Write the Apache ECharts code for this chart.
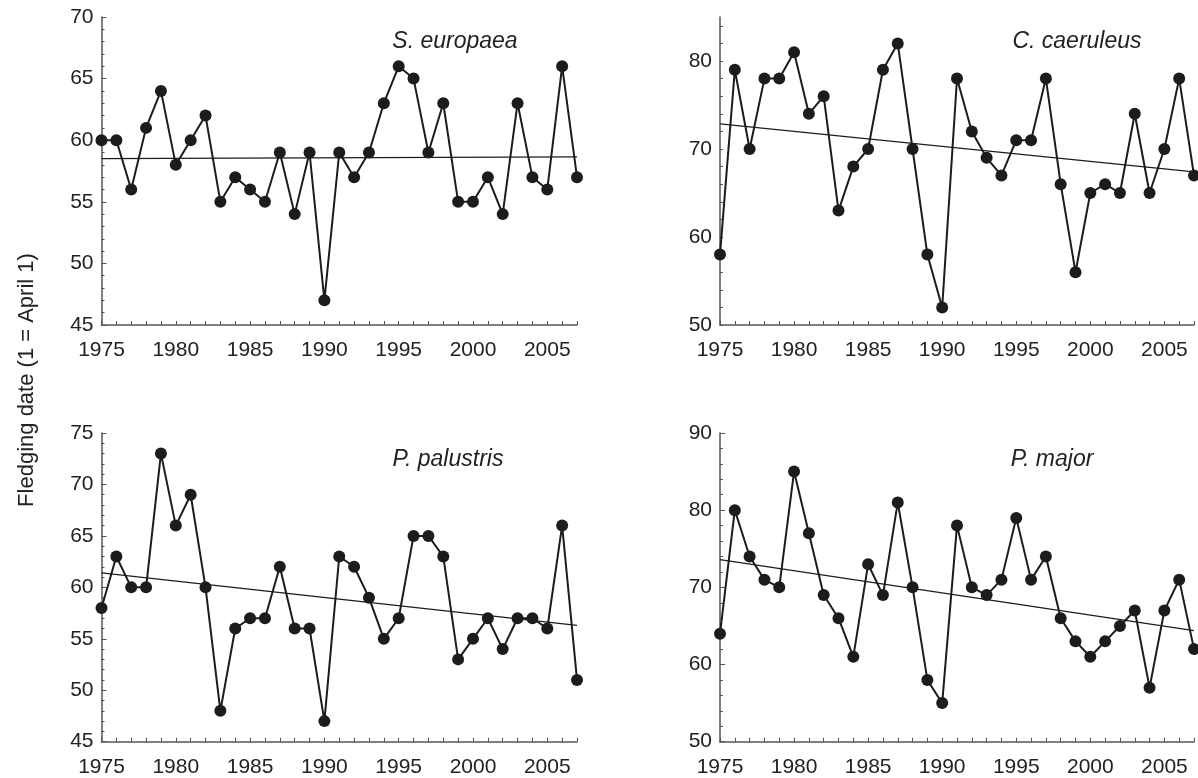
<!DOCTYPE html>
<html>
<head>
<meta charset="utf-8">
<script src="https://cdn.jsdelivr.net/npm/echarts@6/dist/echarts.min.js"></script>
<style>
html,body{margin:0;padding:0;background:#fff;}
#chart{width:1198px;height:778px;}
</style>
</head>
<body>
<div id="chart"></div>
<script>
const years = [1975,1976,1977,1978,1979,1980,1981,1982,1983,1984,1985,1986,1987,1988,1989,1990,1991,1992,1993,1994,1995,1996,1997,1998,1999,2000,2001,2002,2003,2004,2005,2006,2007];
const xTickLabels = [1975,1980,1985,1990,1995,2000,2005];

const sEuropaea   = [60,60,56,61,64,58,60,62,55,57,56,55,59,54,59,47,59,57,59,63,66,65,59,63,55,55,57,54,63,57,56,66,57];
const cCaeruleus  = [58,79,70,78,78,81,74,76,63,68,70,79,82,70,58,52,78,72,69,67,71,71,78,66,56,65,66,65,74,65,70,78,67];
const pPalustris  = [58,63,60,60,73,66,69,60,48,56,57,57,62,56,56,47,63,62,59,55,57,65,65,63,53,55,57,54,57,57,56,66,51];
const pMajor      = [64,80,74,71,70,85,77,69,66,61,73,69,81,70,58,55,78,70,69,71,79,71,74,66,63,61,63,65,67,57,67,71,62];

const trendSEuropaea  = [58.5, 58.65];
const trendCCaeruleus = [72.85, 67.4];
const trendPPalustris = [61.4, 56.3];
const trendPMajor     = [73.6, 64.4];

const titles = ['S. europaea','C. caeruleus','P. palustris','P. major'];
const yLabel = 'Fledging date (1 = April 1)';

const FONT = "'Liberation Sans', Arial, Helvetica, sans-serif";
const AX = '#555';
const INK = '#1c1c1c';

const panels = [
  {data:sEuropaea, trend:trendSEuropaea, grid:{left:101.5, top:17, width:475.5, height:308}, y:{min:45,max:70,interval:5,minor:5}, title:{x:455,y:30}},
  {data:cCaeruleus, trend:trendCCaeruleus, grid:{left:720, top:17, width:474, height:308}, y:{min:50,max:85,interval:2,labelStep:10}, title:{x:1077,y:30}},
  {data:pPalustris, trend:trendPPalustris, grid:{left:101.5, top:433, width:475.5, height:308.7}, y:{min:45,max:75,interval:5,minor:5}, title:{x:448,y:448}},
  {data:pMajor, trend:trendPMajor, grid:{left:720, top:433, width:474, height:308.7}, y:{min:50,max:90,interval:10,minor:5}, title:{x:1052,y:448}}
];

const grid=[], xAxis=[], yAxis=[], series=[], title=[];
panels.forEach((p,i)=>{
  grid.push(Object.assign({containLabel:false}, p.grid));
  xAxis.push({
    type:'value', gridIndex:i, min:years[0], max:years[years.length-1], interval:1,
    axisLine:{show:true, lineStyle:{color:AX, width:1.5}},
    axisTick:{show:true, inside:true, length:4, lineStyle:{color:AX, width:1}},
    splitLine:{show:false},
    axisLabel:{color:'#222', fontSize:21, fontFamily:FONT, margin:15,
      formatter:v=> xTickLabels.indexOf(v)>=0 ? String(v) : ''}
  });
  const ya = {
    type:'value', gridIndex:i, min:p.y.min, max:p.y.max, interval:p.y.interval,
    axisLine:{show:true, lineStyle:{color:AX, width:1.5}},
    axisTick:{show:true, inside:true, length:p.y.labelStep?3:5, lineStyle:{color:AX, width:1}},
    splitLine:{show:false},
    axisLabel:{color:'#222', fontSize:21, fontFamily:FONT, margin:8}
  };
  if (p.y.labelStep) {
    const st = p.y.labelStep;
    ya.axisLabel.formatter = v => (v % st === 0) ? String(v) : '';
    ya.axisLabel.showMaxLabel = false;
  } else {
    ya.minorTick = {show:true, splitNumber:p.y.minor, length:3, lineStyle:{color:AX, width:1}};
  }
  yAxis.push(ya);
  series.push({
    type:'line', xAxisIndex:i, yAxisIndex:i, clip:false,
    data: years.map((yr,k)=>[yr, p.data[k]]),
    symbol:'circle', symbolSize:12, showSymbol:true,
    lineStyle:{color:INK, width:2}, itemStyle:{color:INK},
    animation:false, z:3
  });
  series.push({
    type:'line', xAxisIndex:i, yAxisIndex:i, clip:false,
    data: [[years[0], p.trend[0]], [years[years.length-1], p.trend[1]]],
    symbol:'none', lineStyle:{color:INK, width:1.2}, animation:false, z:2
  });
  title.push({
    text:titles[i], left:p.title.x, top:p.title.y, textAlign:'center', padding:0,
    textStyle:{fontStyle:'italic', fontWeight:'normal', fontSize:23, color:'#222', fontFamily:FONT}
  });
});

const chart = echarts.init(document.getElementById('chart'), null, {renderer:'canvas'});
chart.setOption({
  animation:false,
  backgroundColor:'#fff',
  title, grid, xAxis, yAxis, series,
  graphic:[{
    type:'text', x:27, y:380, rotation:Math.PI/2,
    style:{text:yLabel, fill:'#222', font:'22px ' + FONT, textAlign:'center', textVerticalAlign:'middle'}
  }]
});
</script>
</body>
</html>
